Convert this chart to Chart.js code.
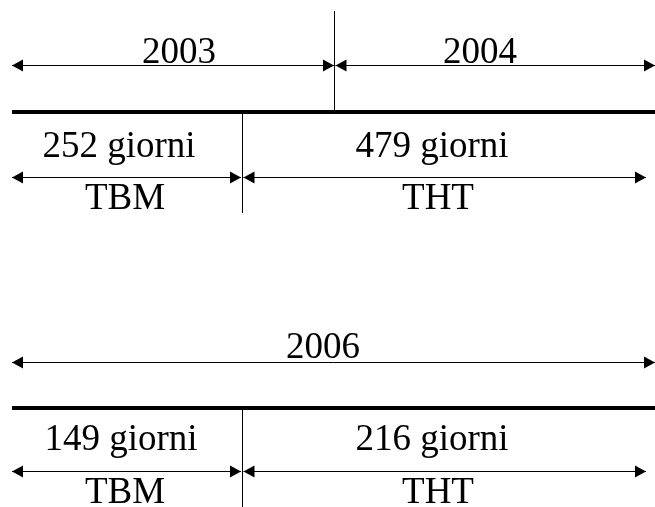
<!DOCTYPE html>
<html lang="it">
<head>
<meta charset="UTF-8">
<title>TBM / THT</title>
<style>
  body { margin: 0; background: #fff; }
  .wrap { width: 655px; height: 507px; position: relative; }
</style>
</head>
<body>
<div class="wrap"><canvas id="timeline"></canvas></div>

<script src="https://cdn.jsdelivr.net/npm/chart.js"></script>
<script>
// --- data ---
const yearsTop = ['2003', '2004'];
const yearsBottom = ['2006'];
const phases = ['TBM', 'THT'];
const daysTop = [252, 479];
const daysBottom = [149, 216];

// --- layout (diagram units: x 0..655, y 0..507 from the top) ---
const panels = [
  {
    years: yearsTop, days: daysTop,
    yearBounds: [12, 334.5, 655], yearTextX: [179, 480], yearArrowY: 65.5, yearTextY: 63,
    yearDivTop: 11, ruleY: 112, daysTextX: [119, 432], daysTextY: 157,
    phaseArrowY: 177.5, phaseTextX: [125, 438], phaseTextY: 209, divBottom: 213
  },
  {
    years: yearsBottom, days: daysBottom,
    yearBounds: [12, 655], yearTextX: [323], yearArrowY: 362.5, yearTextY: 358,
    yearDivTop: null, ruleY: 408, daysTextX: [121, 432], daysTextY: 450,
    phaseArrowY: 471.5, phaseTextX: [125, 438], phaseTextY: 503, divBottom: 507
  }
];
const phaseBounds = [12, 242.5, 646];

function seg(x1, y1, x2, y2, width, arrow) {
  return {
    data: [{ x: x1, y: y1 }, { x: x2, y: y2 }],
    showLine: true,
    borderColor: '#000',
    backgroundColor: '#000',
    borderWidth: width,
    pointRadius: 0,
    clip: false,
    arrow: arrow
  };
}

const datasets = [];
const texts = [];
panels.forEach(p => {
  // year arrows
  p.years.forEach((y, i) => {
    datasets.push(seg(p.yearBounds[i] + (i ? 1 : 0), p.yearArrowY, p.yearBounds[i + 1] - (i < p.years.length - 1 ? 0.5 : 0), p.yearArrowY, 1, true));
    texts.push({ text: y, x: p.yearTextX[i], y: p.yearTextY });
  });
  if (p.yearDivTop !== null) {
    datasets.push(seg(p.yearBounds[1], p.yearDivTop, p.yearBounds[1], p.ruleY - 2, 1));
  }
  // thick rule
  datasets.push(seg(12, p.ruleY, 655, p.ruleY, 4));
  // phase divider
  datasets.push(seg(phaseBounds[1], p.ruleY + 2, phaseBounds[1], p.divBottom, 1));
  // phase arrows + labels
  phases.forEach((ph, i) => {
    const a = phaseBounds[i] + (i ? 1 : 0);
    const b = phaseBounds[i + 1] - (i ? 0 : 1.5);
    datasets.push(seg(a, p.phaseArrowY, b, p.phaseArrowY, 1, true));
    texts.push({ text: p.days[i] + ' giorni', x: p.daysTextX[i], y: p.daysTextY });
    texts.push({ text: ph, x: p.phaseTextX[i], y: p.phaseTextY });
  });
});

function head(ctx, from, to) {
  const dir = Math.sign(to.x - from.x);
  ctx.beginPath();
  ctx.moveTo(to.x, to.y);
  ctx.lineTo(to.x - dir * 11, to.y - 6);
  ctx.lineTo(to.x - dir * 11, to.y + 6);
  ctx.closePath();
  ctx.fill();
}

const arrowPlugin = {
  id: 'arrowHeads',
  afterDatasetsDraw(chart) {
    const ctx = chart.ctx;
    chart.data.datasets.forEach((ds, i) => {
      if (!ds.arrow) return;
      const pts = chart.getDatasetMeta(i).data;
      const a = pts[0], b = pts[pts.length - 1];
      ctx.save();
      ctx.fillStyle = '#000';
      head(ctx, b, a);
      head(ctx, a, b);
      ctx.restore();
    });
  }
};

const textPlugin = {
  id: 'diagramText',
  afterDraw(chart) {
    const ctx = chart.ctx;
    const sx = chart.scales.x, sy = chart.scales.y;
    ctx.save();
    ctx.font = '37px "Liberation Serif", "Times New Roman", serif';
    ctx.fillStyle = '#000';
    ctx.textAlign = 'center';
    ctx.textBaseline = 'alphabetic';
    texts.forEach(t => ctx.fillText(t.text, sx.getPixelForValue(t.x), sy.getPixelForValue(t.y)));
    ctx.restore();
  }
};

new Chart(document.getElementById('timeline'), {
  type: 'scatter',
  data: { datasets: datasets },
  options: {
    responsive: true,
    maintainAspectRatio: false,
    animation: false,
    layout: { padding: 0 },
    plugins: { legend: { display: false }, tooltip: { enabled: false } },
    scales: {
      x: { type: 'linear', min: 0, max: 655, display: false },
      y: { type: 'linear', min: 0, max: 507, reverse: true, display: false }
    }
  },
  plugins: [arrowPlugin, textPlugin]
});
</script>
</body>
</html>
